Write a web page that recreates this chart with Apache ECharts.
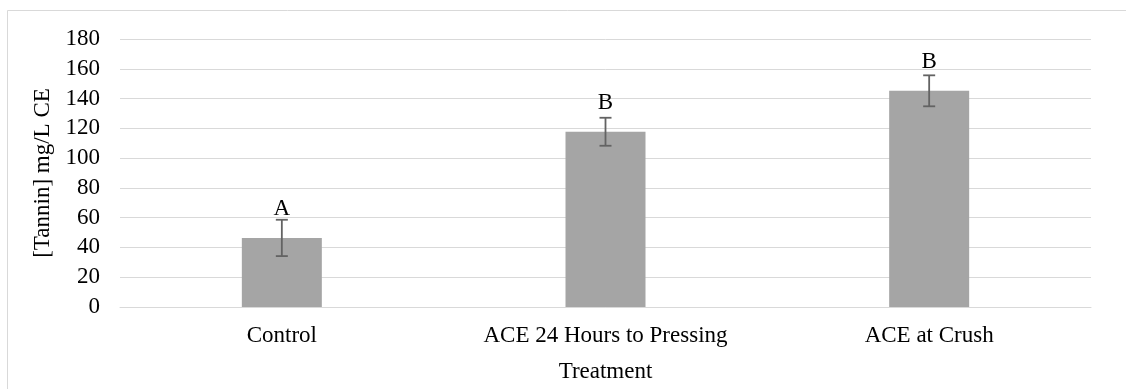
<!DOCTYPE html>
<html>
<head>
<meta charset="utf-8">
<script src="https://cdn.jsdelivr.net/npm/echarts@6/dist/echarts.min.js"></script>
<style>
  html, body { margin: 0; padding: 0; background: #fff; }
  #chart { width: 1126px; height: 389px; }
</style>
</head>
<body>
<div id="chart"></div>
<script>
// Tannin concentration by treatment (mean ± error), with significance letters
const categories = ['Control', 'ACE 24 Hours to Pressing', 'ACE at Crush'];
const tanninMeans = [46.4, 117.7, 145.2];
const tanninErrors = [12.2, 9.4, 10.4];
const groupLetters = ['A', 'B', 'B'];
const yTicks = { min: 0, max: 180, interval: 20 };

const FONT = "'Liberation Serif', 'Times New Roman', serif";
const TEXT_COLOR = '#000';

const errorData = categories.map((c, i) => [i, tanninMeans[i] - tanninErrors[i], tanninMeans[i] + tanninErrors[i]]);

const chart = echarts.init(document.getElementById('chart'), null, { renderer: 'canvas' });

chart.setOption({
  animation: false,
  backgroundColor: '#fff',
  graphic: [{
    type: 'rect',
    silent: true,
    shape: { x: 7.5, y: 10.5, width: 1300, height: 600 },
    style: { fill: 'none', stroke: '#d9d9d9', lineWidth: 1 }
  }],
  grid: { left: 120, right: 35, top: 39, bottom: 82, containLabel: false },
  xAxis: {
    type: 'category',
    data: categories,
    name: 'Treatment',
    nameLocation: 'middle',
    nameGap: 53,
    nameTextStyle: { fontFamily: FONT, fontSize: 23, color: TEXT_COLOR },
    axisLine: { show: true, lineStyle: { color: '#d9d9d9', width: 1 } },
    axisTick: { show: false },
    axisLabel: { fontFamily: FONT, fontSize: 23, color: TEXT_COLOR, margin: 17 }
  },
  yAxis: {
    type: 'value',
    min: yTicks.min,
    max: yTicks.max,
    interval: yTicks.interval,
    name: '[Tannin] mg/L CE',
    nameLocation: 'middle',
    nameGap: 61,
    nameRotate: 90,
    nameTextStyle: { fontFamily: FONT, fontSize: 23, color: TEXT_COLOR },
    axisLine: { show: false },
    axisTick: { show: false },
    axisLabel: { fontFamily: FONT, fontSize: 23, color: TEXT_COLOR, margin: 20 },
    splitLine: { show: true, lineStyle: { color: '#d9d9d9', width: 1 } }
  },
  series: [
    {
      type: 'bar',
      data: tanninMeans,
      barWidth: 80,
      itemStyle: { color: '#a5a5a5' },
      label: {
        show: true,
        position: 'top',
        distance: 17,
        formatter: p => groupLetters[p.dataIndex],
        fontFamily: FONT,
        fontSize: 23,
        color: TEXT_COLOR
      },
      z: 2
    },
    {
      type: 'custom',
      data: errorData,
      z: 3,
      renderItem: (params, api) => {
        const x = api.value(0);
        const lo = api.coord([x, api.value(1)]);
        const hi = api.coord([x, api.value(2)]);
        const cap = 6;
        const style = { stroke: '#636363', lineWidth: 1.8 };
        return {
          type: 'group',
          children: [
            { type: 'line', shape: { x1: hi[0], y1: hi[1], x2: lo[0], y2: lo[1] }, style },
            { type: 'line', shape: { x1: hi[0] - cap, y1: hi[1], x2: hi[0] + cap, y2: hi[1] }, style },
            { type: 'line', shape: { x1: lo[0] - cap, y1: lo[1], x2: lo[0] + cap, y2: lo[1] }, style }
          ]
        };
      }
    }
  ]
});
</script>
</body>
</html>
